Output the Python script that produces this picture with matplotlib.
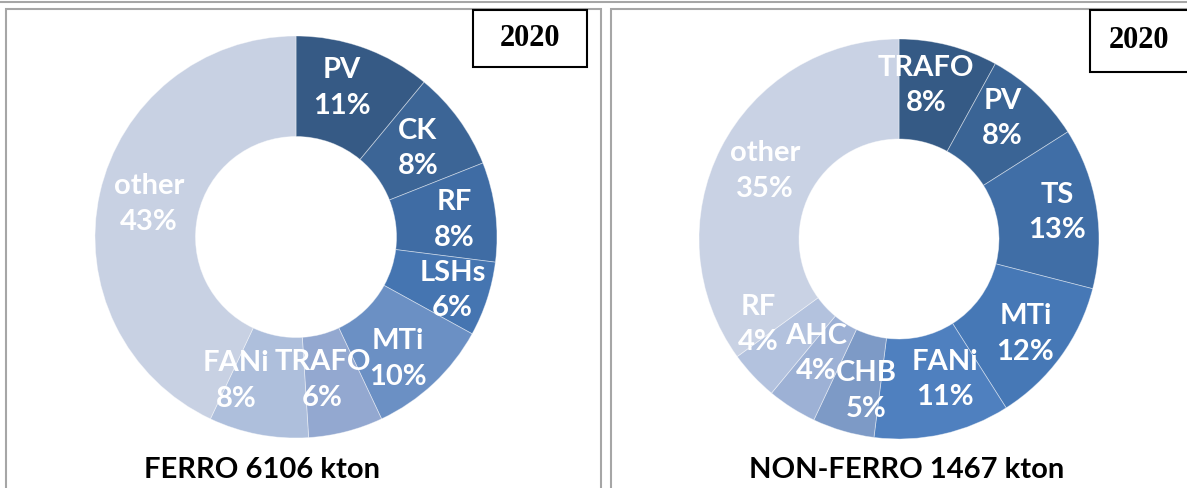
import numpy as np
import matplotlib
matplotlib.use("Agg")
import matplotlib.pyplot as plt
from matplotlib.patches import Rectangle

# ferro 2020 shares (%)
ferro_labels = ['PV', 'CK', 'RF', 'LSHs', 'MTi', 'TRAFO', 'FANi', 'other']
ferro_values = [11, 8, 8, 6, 10, 6, 8, 43]
ferro_colors = ['#365a85', '#3c6596', '#3f6ca4', '#4575b1', '#6b90c4',
                '#93a8d0', '#aebfdc', '#c8d1e3']

# non-ferro 2020 shares (%)
nonferro_labels = ['TRAFO', 'PV', 'TS', 'MTi', 'FANi', 'CHB', 'AHC', 'RF', 'other']
nonferro_values = [8, 8, 13, 12, 11, 5, 4, 4, 35]
nonferro_colors = ['#355a85', '#3a6495', '#406ea6', '#4678b6', '#4f80bf',
                   '#7d9ac6', '#9db1d5', '#b3c2de', '#c9d2e4']

titles = ['FERRO 6106 kton', 'NON-FERRO 1467 kton']
year = '2020'

W, H = 1187, 488
fig = plt.figure(figsize=(W / 100, H / 100), dpi=100)
fig.patch.set_facecolor('white')

LABEL_FONT = ['Lato', 'DejaVu Sans']
border = '#a6a6a6'


def fx(px):
    return px / W


def fy(py):
    return 1 - py / H


# outer frame line and panel borders
fig.add_artist(plt.Line2D([0, 1], [fy(1.5), fy(1.5)], color=border, lw=1.5))
fig.add_artist(Rectangle((fx(6), fy(500)), fx(595), fy(9) - fy(500), fill=False,
                         edgecolor=border, lw=1.5, transform=fig.transFigure))
fig.add_artist(Rectangle((fx(611), fy(500)), fx(590), fy(9) - fy(500), fill=False,
                         edgecolor=border, lw=1.5, transform=fig.transFigure))


def donut(cx, cy, R, labels, values, colors, nudges, title, title_x, box):
    ax = fig.add_axes([fx(cx - R), fy(cy + R), fx(2 * R), fy(cy - R) - fy(cy + R)])
    ax.pie(values, colors=colors, startangle=90, counterclock=False, radius=1,
           wedgeprops=dict(width=0.5, edgecolor=(1, 1, 1, 0.45), linewidth=0.6))
    ax.set_xlim(-1, 1)
    ax.set_ylim(-1, 1)
    ax.set_aspect('equal')
    ax.axis('off')
    total = float(sum(values))
    cum = np.cumsum([0] + list(values))
    for i, (lab, v) in enumerate(zip(labels, values)):
        mid = 90 - (cum[i] + v / 2) / total * 360
        r = 0.75
        x = r * np.cos(np.radians(mid))
        y = r * np.sin(np.radians(mid))
        dx, dy = nudges.get(lab, (0, 0))
        x += dx / R
        y -= dy / R
        ax.text(x, y, '%s\n%d%%' % (lab, v), ha='center', va='center',
                color='white', fontsize=21, fontweight='bold',
                family=LABEL_FONT, linespacing=1.45)
    fig.text(fx(title_x), fy(470), title, ha='center', va='center',
             fontsize=21, fontweight='bold', family=LABEL_FONT, color='black')
    bx0, by0, bx1, by1 = box
    fig.add_artist(Rectangle((fx(bx0), fy(by1)), fx(bx1 - bx0), fy(by0) - fy(by1),
                             fill=True, facecolor='white', edgecolor='black', lw=1.5,
                             transform=fig.transFigure))
    fig.text(fx((bx0 + min(bx1, W)) / 2), fy((by0 + by1) / 2), year, ha='center',
             va='center', fontsize=22, fontweight='bold', family='Liberation Serif')


donut(296, 237, 201, ferro_labels, ferro_values, ferro_colors,
      {'PV': (-5, -7), 'RF': (9, 2), 'LSHs': (13, 7), 'MTi': (-1, 12),
       'TRAFO': (-11, -3), 'FANi': (-32, -4)},
      titles[0], 262, (473, 10, 587, 67))
donut(899, 239, 200, nonferro_labels, nonferro_values, nonferro_colors,
      {'TRAFO': (-10, -8), 'PV': (1, -11), 'TS': (10, -3), 'MTi': (5, 7),
       'FANi': (13, -6), 'CHB': (9, 8), 'AHC': (-2, -12), 'RF': (-31, -17)},
      titles[1], 907, (1090, 10, 1200, 72))

fig.savefig('out.png', dpi=100)
